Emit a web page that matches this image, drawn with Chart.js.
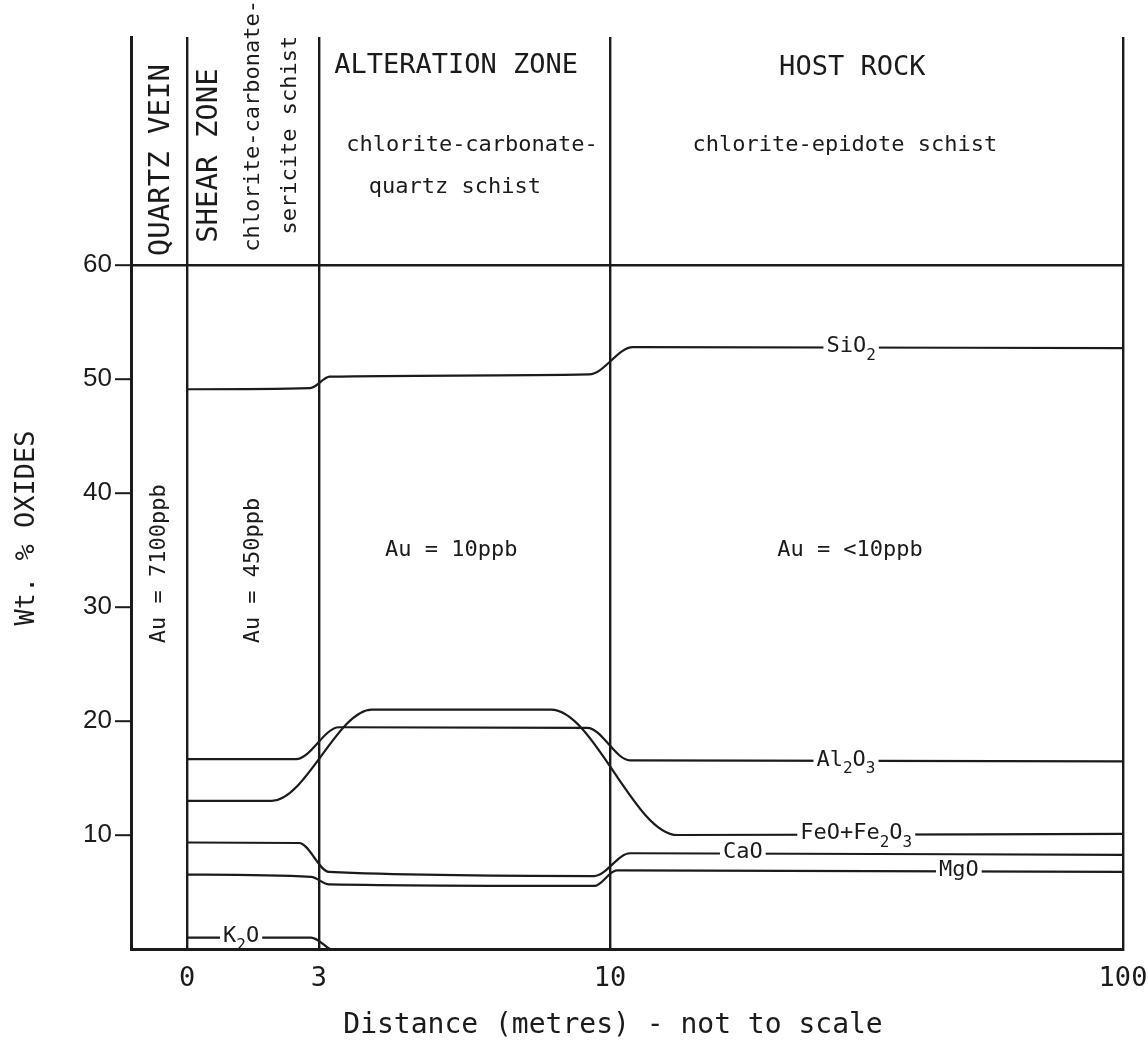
<!DOCTYPE html>
<html>
<head>
<meta charset="utf-8">
<title>Wt. % oxides across the vein profile</title>
<script src="https://cdn.jsdelivr.net/npm/chart.js@4.4.1/dist/chart.umd.min.js"></script>
<style>
    html, body { margin: 0; padding: 0; background: #fff; }
    #wrap { width: 1148px; height: 1056px; position: relative; }
</style>
</head>
<body>
<div id="wrap"><canvas id="profileChart"></canvas></div>
<script>
// distance from the vein contact, metres (axis is not to scale)
const distanceTicks = [0, 3, 10, 100];
const oxideTicks = [10, 20, 30, 40, 50, 60];

// [metres, wt.%]
const sio2 = [[0, 49.1], [2.8, 49.2], [3.26, 50.2], [9.5, 50.4], [14, 52.8], [100, 52.7]];
const al2o3 = [[0, 16.65], [2.48, 16.65], [3.48, 19.45], [9.45, 19.4], [13.5, 16.55], [100, 16.45]];
const feo = [[0, 13.0], [1.93, 13.0], [4.27, 21.0], [8.58, 21.0], [21.8, 10.0], [100, 10.1]];
const cao = [[0, 9.34], [2.55, 9.3], [3.24, 6.76], [9.62, 6.4], [13.5, 8.4], [100, 8.25]];
const mgo = [[0, 6.53], [2.82, 6.33], [3.24, 5.67], [9.62, 5.53], [11.2, 6.9], [100, 6.76]];
const k2o = [[0, 1.0], [2.82, 1.0], [3.26, 0]];

const oxideNames = ['SiO2', 'Al2O3', 'FeO+Fe2O3', 'CaO', 'MgO', 'K2O'];
const oxideSeries = [sio2, al2o3, feo, cao, mgo, k2o];
// where along each line its name is written (metres)
const labelDistance = [52.3, 51.4, 53.2, 33.3, 71.2, 1.23];

const INK = '#1b1b1b';
const MONO = '"DejaVu Sans Mono", "Liberation Mono", monospace';
const SANS = '"Liberation Sans", Arial, sans-serif';

// the axis is broken into zones of fixed width, not true distance
const AXIS_STOPS = [-1, 0, 3, 10, 100];
const AXIS_FRACTIONS = [0, 0.0565, 0.1895, 0.4829, 1];

function interp(v, from, to) {
    for (let i = 1; i < from.length; i++) {
        if (v <= from[i] || i === from.length - 1) {
            const t = (v - from[i - 1]) / (from[i] - from[i - 1]);
            return to[i - 1] + t * (to[i] - to[i - 1]);
        }
    }
    return to[0];
}

const LinearScale = Chart.LinearScale || Chart.registry.getScale('linear');

class ZoneScale extends LinearScale {
    getPixelForValue(value) {
        if (value === null || value === undefined || isNaN(value)) return NaN;
        return this.getPixelForDecimal(interp(value, AXIS_STOPS, AXIS_FRACTIONS));
    }
    getValueForPixel(pixel) {
        return interp(this.getDecimalForPixel(pixel), AXIS_FRACTIONS, AXIS_STOPS);
    }
}
ZoneScale.id = 'zones';
ZoneScale.defaults = LinearScale.defaults;
Chart.register(ZoneScale);

// zone headings and gold assays: text, metres, wt.%, font size, vertical
const zoneNotes = [
    ['QUARTZ VEIN', -0.46, 69.2, 29, true],
    ['SHEAR ZONE', 0.52, 69.6, 29, true],
    ['chlorite-carbonate-', 1.5, 72.2, 22, true],
    ['sericite schist', 2.34, 71.4, 22, true],
    ['ALTERATION ZONE', 6.3, 77.5, 27, false],
    ['chlorite-carbonate-', 6.68, 70.5, 22, false],
    ['quartz schist', 6.27, 66.8, 22, false],
    ['HOST ROCK', 52.5, 77.3, 27, false],
    ['chlorite-epidote schist', 51.2, 70.5, 22, false],
    ['Au = 7100ppb', -0.5, 33.8, 22, true],
    ['Au = 450ppb', 1.5, 33.2, 22, true],
    ['Au = 10ppb', 6.18, 35.0, 22, false],
    ['Au = <10ppb', 52.1, 35.0, 22, false],
];

function valueAt(points, m) {
    return interp(m, points.map(p => p[0]), points.map(p => p[1]));
}

// digits in a formula are set as subscripts
function drawFormula(ctx, text, cx, cy, size) {
    const parts = text.split(/(\d)/).filter(Boolean);
    const big = `${size}px ${MONO}`;
    const small = `${Math.round(size * 0.72)}px ${MONO}`;
    let width = 0;
    parts.forEach(p => {
        ctx.font = /\d/.test(p) ? small : big;
        width += ctx.measureText(p).width;
    });
    ctx.fillStyle = '#fff';
    ctx.fillRect(cx - width / 2 - 3, cy - 4, width + 6, 8);
    ctx.fillStyle = INK;
    ctx.textAlign = 'left';
    ctx.textBaseline = 'middle';
    let px = cx - width / 2;
    parts.forEach(p => {
        const sub = /\d/.test(p);
        ctx.font = sub ? small : big;
        ctx.fillText(p, px, cy + (sub ? size * 0.38 : -1));
        px += ctx.measureText(p).width;
    });
}

const profileNotes = {
    id: 'profileNotes',
    afterDatasetsDraw(chart) {
        const { ctx, scales: { x, y } } = chart;
        ctx.save();

        oxideSeries.forEach((points, i) => {
            const m = labelDistance[i];
            drawFormula(ctx, oxideNames[i], x.getPixelForValue(m), y.getPixelForValue(valueAt(points, m)), 22);
        });

        ctx.fillStyle = INK;
        ctx.textAlign = 'center';
        ctx.textBaseline = 'middle';
        zoneNotes.forEach(([text, m, v, size, vertical]) => {
            ctx.font = `${size}px ${MONO}`;
            ctx.save();
            ctx.translate(x.getPixelForValue(m), y.getPixelForValue(v));
            if (vertical) ctx.rotate(-Math.PI / 2);
            ctx.fillText(text, 0, 0);
            ctx.restore();
        });

        // axis titles
        ctx.font = `27px ${MONO}`;
        ctx.save();
        ctx.translate(27, 528);
        ctx.rotate(-Math.PI / 2);
        ctx.fillText('Wt. % OXIDES', 0, 0);
        ctx.restore();
        ctx.font = `28px ${MONO}`;
        ctx.fillText('Distance (metres) - not to scale', 613, 1026);

        ctx.restore();
    },
};

new Chart(document.getElementById('profileChart'), {
    type: 'line',
    data: {
        datasets: oxideSeries.map((points, i) => ({
            label: oxideNames[i],
            data: points.map(([m, v]) => ({ x: m, y: v })),
            borderColor: INK,
            borderWidth: 2.2,
            pointRadius: 0,
            cubicInterpolationMode: 'monotone',
            fill: false,
        })),
    },
    options: {
        responsive: true,
        maintainAspectRatio: false,
        animation: false,
        layout: {
            padding: { top: 37, right: 25, bottom: 0, left: 0 },
        },
        scales: {
            x: {
                type: 'zones',
                min: -1,
                max: 100,
                afterBuildTicks: (axis) => {
                    axis.ticks = distanceTicks.map(v => ({ value: v }));
                },
                afterFit: (axis) => {
                    axis.height = 107;
                    axis.paddingLeft = 0;
                    axis.paddingRight = 0;
                },
                ticks: {
                    autoSkip: false,
                    maxRotation: 0,
                    padding: 14,
                    color: INK,
                    font: { family: MONO, size: 27 },
                    callback: (value) => String(value),
                },
                grid: {
                    color: INK,
                    lineWidth: 2.4,
                    drawTicks: false,
                },
                border: { display: true, color: INK, width: 3 },
            },
            y: {
                min: 0,
                max: 80,
                afterBuildTicks: (axis) => {
                    axis.ticks = oxideTicks.map(v => ({ value: v }));
                },
                afterFit: (axis) => {
                    axis.width = 131;
                    axis.paddingTop = 0;
                    axis.paddingBottom = 0;
                },
                ticks: {
                    padding: 3,
                    color: INK,
                    font: { family: SANS, size: 26 },
                },
                grid: {
                    color: (c) => (c.tick && c.tick.value === 60 ? INK : 'rgba(0,0,0,0)'),
                    lineWidth: 2.4,
                    tickColor: INK,
                    tickLength: 16,
                    tickWidth: 2,
                },
                border: { display: true, color: INK, width: 3 },
            },
        },
        plugins: {
            legend: { display: false },
            tooltip: { enabled: false },
        },
    },
    plugins: [profileNotes],
});
</script>
</body>
</html>
